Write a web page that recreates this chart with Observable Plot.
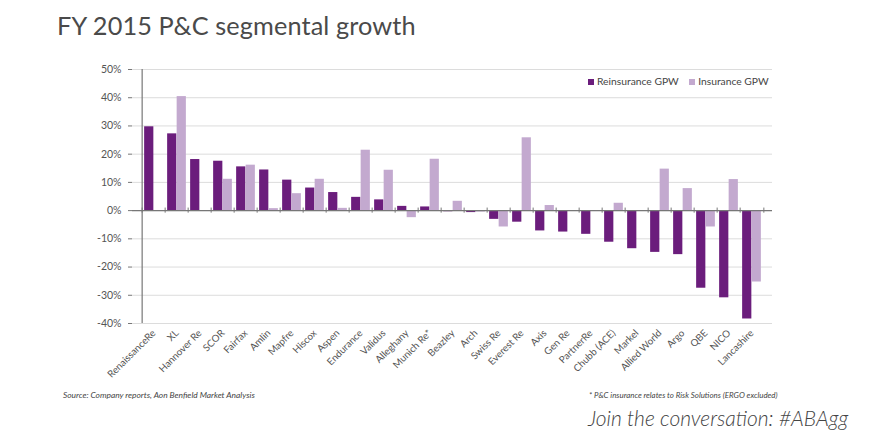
<!DOCTYPE html>
<html>
<head>
<meta charset="utf-8">
<script src="https://cdn.jsdelivr.net/npm/d3@7"></script>
<script src="https://cdn.jsdelivr.net/npm/@observablehq/plot@0.6"></script>
<style>
  html, body { margin: 0; padding: 0; background: #fff; }
  #wrap { position: relative; width: 880px; height: 440px; overflow: hidden; font-family: Lato, "Open Sans", sans-serif; }
  #wrap svg { position: absolute; left: 0; top: 0; }
  .title { position: absolute; left: 57px; top: 10px; font-size: 25.3px; color: #4a4a4a; letter-spacing: 0.1px; white-space: nowrap; }
  .legend { position: absolute; left: 588px; top: 75px; font-size: 10.3px; color: #444; white-space: nowrap; }
  .legend .sw { display: inline-block; width: 6px; height: 6px; margin-right: 3px; vertical-align: 0px; }
  .src { position: absolute; left: 63px; top: 390px; font-size: 8.4px; font-style: italic; color: #444; white-space: nowrap; }
  .note { position: absolute; left: 589px; top: 390px; font-size: 7.9px; font-style: italic; color: #444; white-space: nowrap; }
  .join { position: absolute; left: 588px; top: 405px; font-size: 21px; font-style: italic; color: #444; white-space: nowrap; font-weight: 300; }
</style>
</head>
<body>
<div id="wrap">
  <div class="title">FY 2015 P&amp;C segmental growth</div>
  <div class="legend"><span class="sw" style="background:#6b1d7c"></span>Reinsurance GPW&nbsp;&nbsp;&nbsp;&nbsp;<span class="sw" style="background:#c3a9cf"></span>Insurance GPW</div>
  <div class="src">Source: Company reports, Aon Benfield Market Analysis</div>
  <div class="note">* P&amp;C insurance relates to Risk Solutions (ERGO excluded)</div>
  <div class="join">Join the conversation: #ABAgg</div>
</div>
<script>
const companies = ["RenaissanceRe","XL","Hannover Re","SCOR","Fairfax","Amlin","Mapfre","Hiscox","Aspen","Endurance","Validus","Alleghany","Munich Re*","Beazley","Arch","Swiss Re","Everest Re","Axis","Gen Re","PartnerRe","Chubb (ACE)","Markel","Allied World","Argo","QBE","NICO","Lancashire"];
const reinsurance = [29.7,27.2,18.1,17.5,15.5,14.4,10.8,8.0,6.4,4.7,3.8,1.5,1.3,-0.4,-0.7,-3.1,-4.1,-7.2,-7.6,-8.4,-11.2,-13.5,-14.8,-15.6,-27.5,-30.9,-38.4];
const insurance = [null,40.4,null,11.1,16.1,0.7,6.0,11.1,0.8,21.4,14.3,-2.5,18.2,3.3,-0.5,-5.8,25.8,1.8,null,null,2.6,null,14.7,7.8,-5.8,11.0,-25.3];
const yTicks = [50,40,30,20,10,0,-10,-20,-30,-40];
const series = ["Reinsurance GPW", "Insurance GPW"];
const colors = ["#6b1d7c", "#c3a9cf"];

const rows = companies.map((c, i) => ({company: c, R: reinsurance[i], I: insurance[i]}));

const W = 880, H = 440, ML = 132, MR = 108, MT = 69, MB = 117;
const band = (W - ML - MR) / companies.length;

const chart = Plot.plot({
  width: W, height: H,
  marginLeft: ML, marginRight: MR, marginTop: MT, marginBottom: MB,
  style: {fontFamily: "Lato, 'Open Sans', sans-serif", background: "transparent"},
  x: {domain: companies, padding: 0},
  y: {domain: [-40, 50]},
  color: {domain: series, range: colors},
  marks: [
    Plot.gridY(yTicks, {stroke: "#dcdcdc", strokeOpacity: 1}),
    Plot.barY(rows.filter(d => d.R != null), {x: "company", y: "R", fill: colors[0], insetLeft: band * 0.09, insetRight: band / 2 - 0.2}),
    Plot.barY(rows.filter(d => d.I != null), {x: "company", y: "I", fill: colors[1], insetLeft: band / 2 - 0.2, insetRight: band * 0.09}),
    Plot.ruleY([0], {stroke: "#777", strokeWidth: 1.2}),
    Plot.ruleX(companies, {x: d => d, y1: -0.9, y2: 0.9, dx: -band / 2, stroke: "#777"}),
    Plot.ruleX(companies.slice(-1), {x: d => d, y1: -0.9, y2: 0.9, dx: band / 2, stroke: "#777"}),
    Plot.ruleX([companies[0]], {x: d => d, y1: -40, y2: 50, dx: -band / 2, stroke: "#777", strokeWidth: 1.2}),
    Plot.axisY(yTicks, {tickSize: 4, tickPadding: 7, stroke: "#777", tickFormat: d => d + "%", fontSize: 10.5, fill: "#555"}),
    Plot.axisX({tickSize: 0, tickRotate: -45, tickPadding: 8, fontSize: 9.8, fill: "#555", label: null})
  ]
});
document.getElementById("wrap").insertBefore(chart, document.getElementById("wrap").firstChild);
</script>
</body>
</html>
